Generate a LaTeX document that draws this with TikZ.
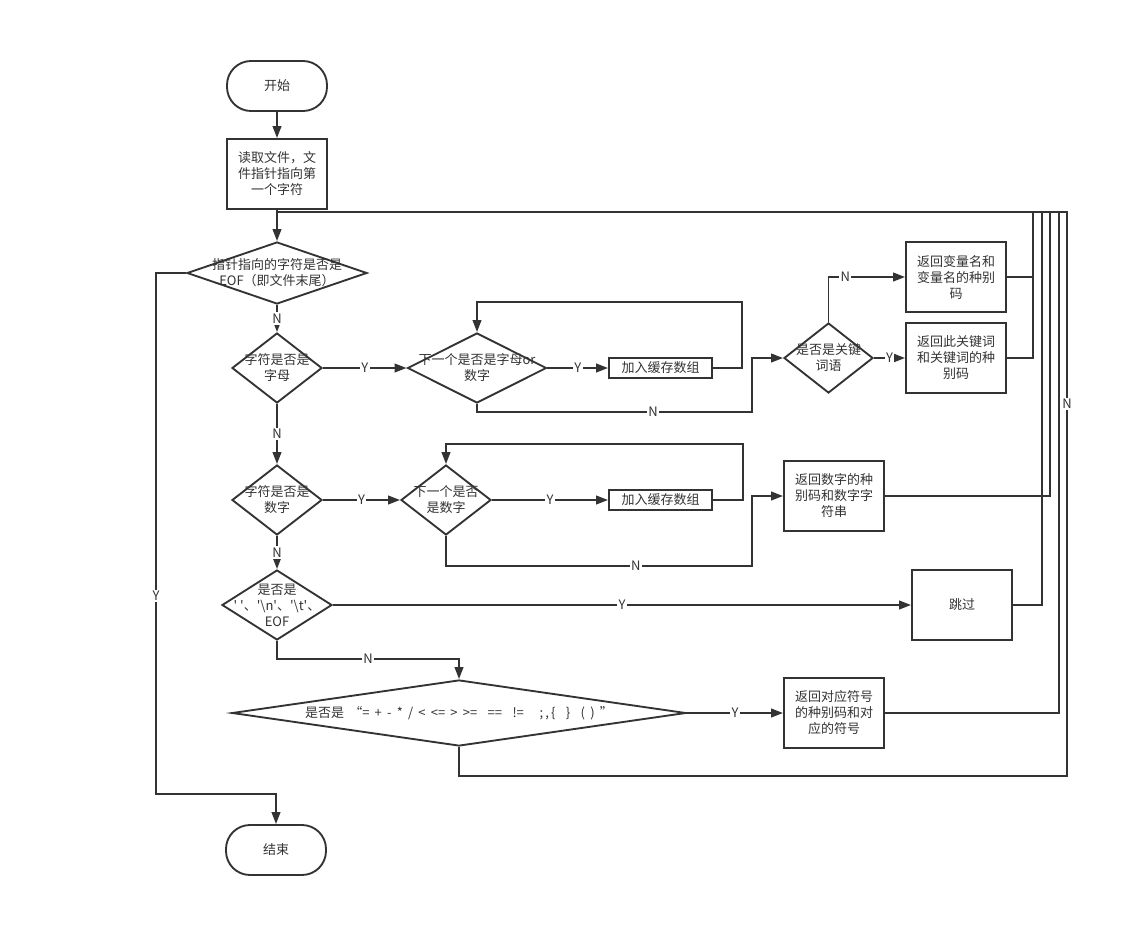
\documentclass[tikz,border=0pt]{standalone}
\usepackage{fontspec}
\setmainfont{Noto Sans CJK SC}
\usepackage{tikz}
\usetikzlibrary{positioning}
\usetikzlibrary{shapes.geometric}
\usetikzlibrary{arrows.meta}
\usetikzlibrary{calc}
\definecolor{ink}{HTML}{333333}
\newcommand{\sg}{\hspace{3.9pt}}

\begin{document}
\begin{tikzpicture}[x=0.75pt,y=-0.75pt,line width=1.4pt,color=ink,
   font=\fontsize{9.75}{12}\selectfont,
   arr/.style={-{Triangle[length=9pt,width=6.5pt]}},
   term/.style={draw,rounded corners=18pt,minimum width=75pt,minimum height=37.5pt},
   proc/.style={draw,align=center,minimum width=75pt,minimum height=52.5pt,inner sep=2pt},
   buf/.style={draw,minimum width=77.25pt,minimum height=15pt,inner sep=0pt},
   dia/.style={draw,diamond,inner sep=0pt},
   dtext/.style={align=center,inner sep=0pt},
   lbl/.style={fill=white,inner sep=1pt}] 
   \useasboundingbox (0,0) rectangle (1129,936);
   \node[term] (start) at (277,86) {开始}; 
   \node[proc] (read) at (277,174) {读取文件，文\\件指针指向第\\一个字符}; 
   \node[dia,minimum width=135pt,minimum height=46.5pt,
      label={[dtext]center:指针指向的字符是否是\\EOF（即文件末尾）}] (eof) at (277,273) {}; 
   \node[dia,minimum width=67.5pt,minimum height=52.5pt,
      label={[dtext]center:字符是否是\\字母}] (isletter) at (277,368) {}; 
   \node[dia,minimum width=104.25pt,minimum height=52.5pt,
      label={[dtext]center:下一个是否是字母or\\数字}] (nextlet) at (477,368) {}; 
   \node[buf] (buf1) at (660.5,368) {加入缓存数组}; 
   \node[dia,minimum width=66.75pt,minimum height=52.5pt,
      label={[dtext]center:是否是关键\\词语}] (iskey) at (828.5,358) {}; 
   \node[proc] (varbox) at (956,277) {返回变量名和\\变量名的种别\\码}; 
   \node[proc] (keybox) at (956,358) {返回此关键词\\和关键词的种\\别码}; 
   \node[dia,minimum width=67.5pt,minimum height=52.5pt,
      label={[dtext]center:字符是否是\\数字}] (isdigit) at (277,500) {}; 
   \node[dia,minimum width=67.5pt,minimum height=52.5pt,
      label={[dtext]center:下一个是否\\是数字}] (nextdig) at (446,500) {}; 
   \node[buf] (buf2) at (660.5,500) {加入缓存数组}; 
   \node[proc] (numbox) at (834,496) {返回数字的种\\别码和数字字\\符串}; 
   \node[dia,minimum width=82.5pt,minimum height=52.5pt,
      label={[dtext]center:是否是\\\textquotesingle\ \textquotesingle、\textquotesingle\textbackslash n\textquotesingle、\textquotesingle\textbackslash t\textquotesingle、\\EOF}] (isblank) at (277,605) {}; 
   \node[proc] (skip) at (962,605) {跳过}; 
   \node[dia,minimum width=340.5pt,minimum height=49.5pt,
      label={[dtext]center:{是否是\sg“=\sg+\sg-\sg*\sg/\sg<\sg<=\sg>\sg>=\sg\sg==\sg\sg!=\sg\sg\sg;\,,\,\{\sg\sg\}\sg\sg(\sg)\sg”}}] (issym) at (459,713) {}; 
   \node[proc] (symbox) at (834,713) {返回对应符号\\的种别码和对\\应的符号}; 
   \node[term] (stop) at (276,850) {结束}; 
   % tops of the return lines
   \coordinate (bus) at (277,212);
   \coordinate (r1) at (1033,212);
   \coordinate (r2) at (1042,212);
   \coordinate (r3) at (1050,212);
   \coordinate (r4) at (1059,212);
   \coordinate (r5) at (1067,212);
   \draw[arr] (start) -- (read);
   \draw[arr] (read) -- (eof);
   \draw[arr] (eof.west) -- ++(-30,0) |- node[lbl,pos=0.31] {Y} ($(stop.north)+(0,-30)$) -- (stop.north);
   \draw[arr] (eof) -- node[lbl] {N} (isletter);
   \draw[arr] (isletter) -- node[lbl] {Y} (nextlet);
   \draw[arr] (nextlet) -- node[lbl] {Y} (buf1);
   \draw[arr] (buf1.east) -- ++(29,0) |- ($(nextlet.north)+(0,-30)$) -- (nextlet.north);
   \draw[arr] (nextlet.south) -- ++(0,8) -| node[lbl,pos=0.32] {N} ($(iskey.west)+(-31,0)$) -- (iskey.west);
   \draw[arr] (iskey.north) |- node[lbl,pos=0.61] {N} (varbox.west);
   \draw[arr] (iskey) -- node[lbl] {Y} (keybox);
   \draw[arr] (isletter) -- node[lbl] {N} (isdigit);
   \draw[arr] (isdigit) -- node[lbl] {Y} (nextdig);
   \draw[arr] (nextdig) -- node[lbl] {Y} (buf2);
   \draw[arr] (buf2.east) -- ++(30,0) |- ($(nextdig.north)+(0,-20)$) -- (nextdig.north);
   \draw[arr] (nextdig.south) -- ++(0,30) -| node[lbl,pos=0.31] {N} ($(numbox.west)+(-31,0)$) -- (numbox.west);
   \draw[arr] (isdigit) -- node[lbl] {N} (isblank);
   \draw[arr] (isblank) -- node[lbl] {Y} (skip);
   \draw[arr] (isblank.south) |- node[lbl,pos=0.75] {N} ($(issym.north)+(0,-20)$) -- (issym.north);
   \draw[arr] (issym) -- node[lbl] {Y} (symbox);
   % back to the pointer test
   \draw (varbox.east) -| (r1);
   \draw (keybox.east) -| (r1);
   \draw (skip.east) -| (r2);
   \draw (numbox.east) -| (r3);
   \draw (symbox.east) -| (r4);
   \draw (issym.south) -- ++(0,29) -| node[lbl,pos=0.83] {N} (r5) -- (bus);
\end{tikzpicture}
\end{document}
